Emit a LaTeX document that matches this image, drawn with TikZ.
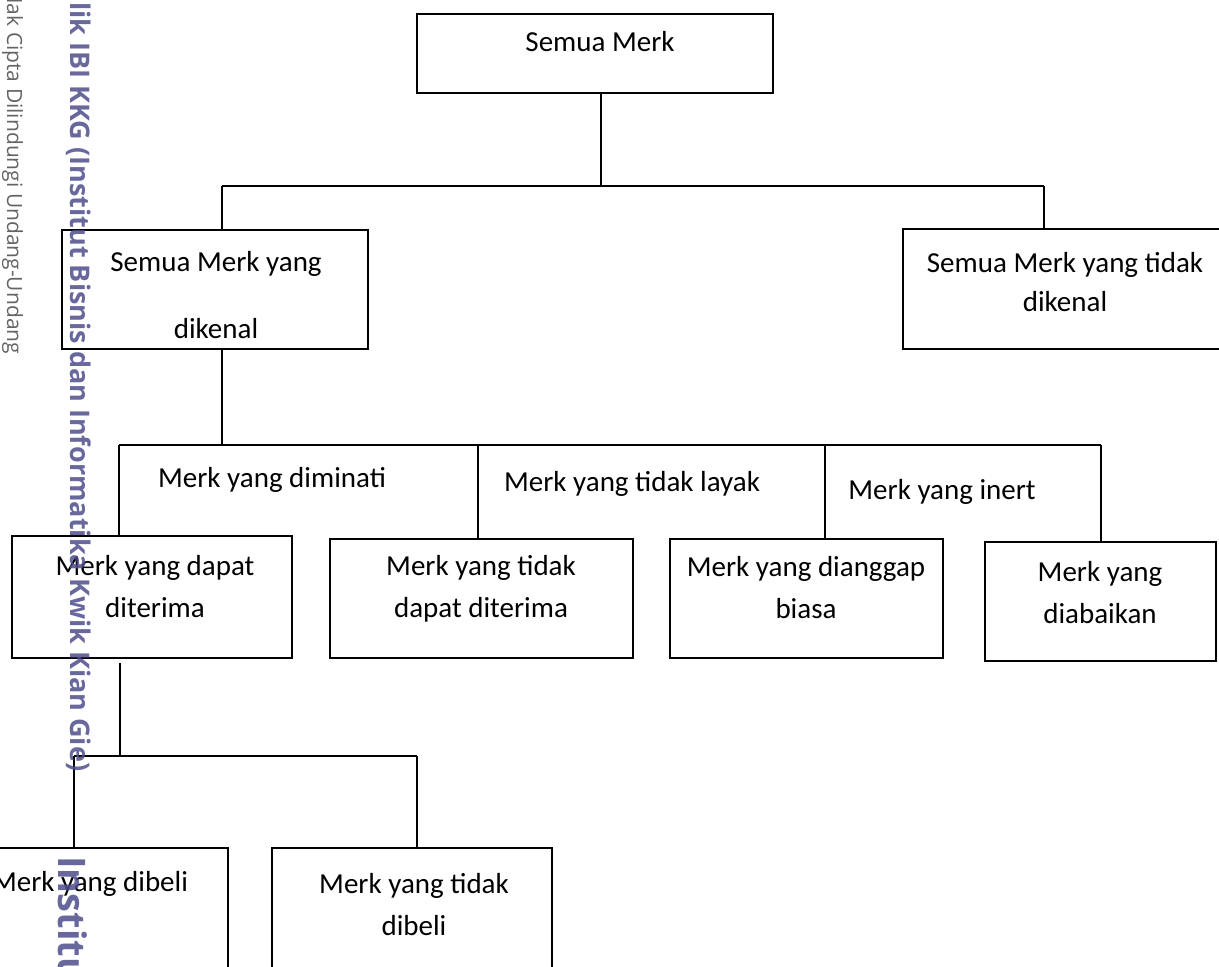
\documentclass[tikz,border=0pt]{standalone}
\usepackage{fontspec}
\setmainfont{Carlito}
\newfontfamily\wmfont{Open Sans}
\usepackage{xcolor}
\definecolor{wmblue}{RGB}{78,78,140}
\definecolor{wmgray}{RGB}{100,100,100}
\tikzset{
    kotak/.style={draw, line width=0.9pt, inner sep=0pt},
    teks/.style={font=\fontsize{14.5}{21}\selectfont, align=center, inner sep=0pt},
    garis/.style={line width=0.9pt},
}

\begin{document}
\begin{tikzpicture}[x=0.5pt, y=-0.5pt]
    \useasboundingbox (0,0) rectangle (1219,967);

    % Level 1
    \node[kotak, minimum width=178pt, minimum height=39.5pt] (semua) at (595,53.5) {};
    \node[teks] (tsemua) at (600,42) {Semua Merk};

    % Level 2
    \node[kotak, minimum width=153pt, minimum height=59.5pt] (kenal) at (215,289.5) {};
    \node[teks] (tkenal) at (216,295.5) {Semua Merk yang\\[12.5pt]dikenal};
    \node[kotak, minimum width=162pt, minimum height=60pt] (takkenal) at (1065,289) {};
    \node[teks, font=\fontsize{14.5}{19.5}\selectfont] (ttakkenal) at (1065,282) {Semua Merk yang tidak\\dikenal};

    % Level 3
    \node[kotak, minimum width=140pt, minimum height=61pt] (dapat) at (152,597) {};
    \node[teks] (tdapat) at (155,587) {Merk yang dapat\\diterima};
    \node[kotak, minimum width=151.5pt, minimum height=59.5pt] (takdapat) at (481.5,598.5) {};
    \node[teks] (ttakdapat) at (481,589) {Merk yang tidak\\dapat diterima};
    \node[kotak, minimum width=136.5pt, minimum height=59.5pt] (biasa) at (806.5,598.5) {};
    \node[teks] (tbiasa) at (806,588) {Merk yang dianggap\\biasa};
    \node[kotak, minimum width=115.5pt, minimum height=59.5pt] (abai) at (1100.5,601.5) {};
    \node[teks] (tabai) at (1100,593) {Merk yang\\diabaikan};

    % Labels on the branches
    \node[teks] (tminat) at (272,480) {Merk yang diminati};
    \node[teks] (tlayak) at (632,484) {Merk yang tidak layak};
    \node[teks] (tinert) at (942,492) {Merk yang inert};

    % Level 4
    \node[kotak, minimum width=139pt, minimum height=70pt] (beli) at (89,918) {};
    \node[teks] (tbeli) at (90,884) {Merk yang dibeli};
    \node[kotak, minimum width=140pt, minimum height=70pt] (takbeli) at (412,918) {};
    \node[teks] (ttakbeli) at (414,905) {Merk yang tidak\\dibeli};

    % Connections level 1 -> 2
    \coordinate (c1) at (601,186);
    \coordinate (c1a) at (222,186);
    \coordinate (c1b) at (1044,186);
    \draw[garis] (semua.south -| c1) -- (c1);
    \draw[garis] (c1a) -- (c1b);
    \draw[garis] (c1a) -- (c1a |- kenal.north);
    \draw[garis] (c1b) -- (c1b |- takkenal.north);

    % Connections level 2 -> 3
    \coordinate (c2) at (222,445);
    \coordinate (c2a) at (119,445);
    \coordinate (c2b) at (478,445);
    \coordinate (c2c) at (825,445);
    \coordinate (c2d) at (1101,445);
    \draw[garis] (kenal.south -| c2) -- (c2);
    \draw[garis] (c2a) -- (c2d);
    \foreach \c/\b in {c2a/dapat, c2b/takdapat, c2c/biasa, c2d/abai} {
        \draw[garis] (\c) -- (\c |- \b.north);
    }

    % Connections level 3 -> 4
    \coordinate (c3) at (120,756);
    \coordinate (c3a) at (74,756);
    \coordinate (c3b) at (417,756);
    \draw[garis] ([yshift=-2pt]dapat.south -| c3) -- (c3);
    \draw[garis] (c3a) -- (c3b);
    \foreach \c/\b in {c3a/beli, c3b/takbeli} {
        \draw[garis] (\c) -- (\c |- \b.north);
    }

    % Watermark on the left margin
    \node[rotate=-90, anchor=base west, inner sep=0pt, text=wmgray,
          font=\wmfont\fontsize{10.5}{13}\selectfont] (wm1) at (7,-12) {Hak Cipta Dilindungi Undang-Undang};
    \node[rotate=-90, anchor=base west, inner sep=0pt, text=wmblue, text opacity=0.85,
          font=\wmfont\bfseries\fontsize{13.5}{15}\selectfont] (wm2) at (70,2) {lik IBI KKG (Institut Bisnis dan Informatika Kwik Kian Gie)};
    \node[rotate=-90, anchor=base west, inner sep=0pt, text=wmblue, text opacity=0.85,
          font=\wmfont\bfseries\fontsize{19}{22}\selectfont] (wm3) at (58,856) {Institut};
\end{tikzpicture}
\end{document}
